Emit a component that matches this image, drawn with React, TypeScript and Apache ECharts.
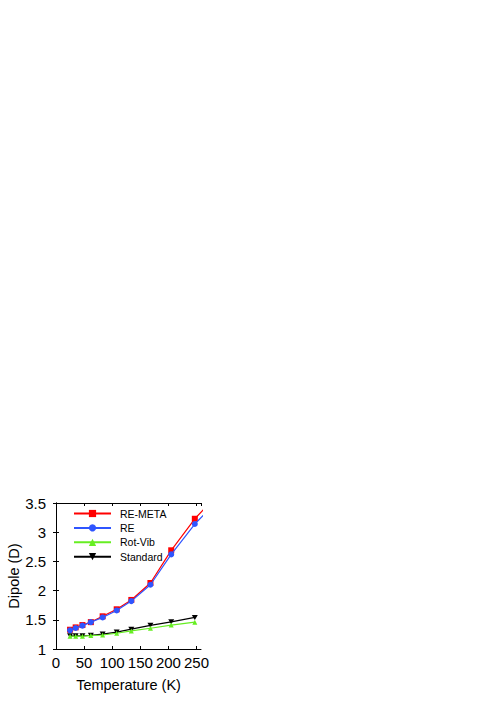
import React, { useEffect, useRef } from "react";
import * as echarts from "echarts";

// Temperatures (K)
const tempsRE = [25, 35, 47, 62, 83, 108, 134, 168, 205, 247, 290];
const tempsRV = [25, 35, 47, 62, 83, 108, 134, 168, 205, 247];

// Dipole (D)
const reMeta = [1.33, 1.37, 1.41, 1.46, 1.56, 1.68, 1.84, 2.13, 2.69, 3.23, 3.67];
const re = [1.32, 1.36, 1.40, 1.46, 1.54, 1.66, 1.82, 2.10, 2.62, 3.14, 3.57];
const rotVib = [1.22, 1.22, 1.22, 1.23, 1.24, 1.27, 1.31, 1.355, 1.41, 1.46];
const standard = [1.225, 1.225, 1.225, 1.235, 1.255, 1.29, 1.34, 1.405, 1.465, 1.54];

const seriesNames = ["RE-META", "RE", "Rot-Vib", "Standard"];

const xTicks = { min: 0, max: 258, interval: 50 };
const yTicks = { min: 1, max: 3.5, interval: 0.5 };

const FONT = "'Liberation Sans', Arial, Helvetica, sans-serif";

const pairs = (xs: number[], ys: number[]) => ys.map((y, i) => [xs[i], y]);

export default function App() {
  const ref = useRef<HTMLDivElement>(null);
  useEffect(() => {
    if (!ref.current) return;
    const chart = echarts.init(ref.current, undefined, { renderer: "svg" });
    const axisLine = { show: true, lineStyle: { color: "#000", width: 1 } };
    const tickIn = { show: true, inside: true, length: 3, lineStyle: { color: "#000", width: 1 } };
    const downTri = "path://M0,0 L10,0 L5,9 Z";
    chart.setOption({
      animation: false,
      backgroundColor: "#fff",
      textStyle: { fontFamily: FONT },
      grid: { left: 56, right: 295, top: 503, bottom: 52, containLabel: false },
      legend: {
        orient: "vertical",
        left: 73,
        top: 508,
        padding: 0,
        itemWidth: 37,
        itemHeight: 9,
        itemGap: 3.4,
        data: seriesNames,
        textStyle: { fontFamily: FONT, fontSize: 10.5, color: "#000", padding: [0, 0, 0, 4] },
      },
      xAxis: [
        {
          type: "value",
          position: "bottom",
          ...xTicks,
          name: "Temperature (K)",
          nameLocation: "middle",
          nameGap: 28,
          nameTextStyle: { fontFamily: FONT, fontSize: 14.5, color: "#000" },
          axisLine,
          axisTick: tickIn,
          axisLabel: { fontFamily: FONT, fontSize: 15, color: "#000", margin: 6, showMaxLabel: false },
          splitLine: { show: false },
        },
        {
          type: "value",
          position: "top",
          ...xTicks,
          axisLine,
          axisTick: tickIn,
          axisLabel: { show: false },
          splitLine: { show: false },
        },
      ],
      yAxis: [
        {
          type: "value",
          position: "left",
          ...yTicks,
          name: "Dipole (D)",
          nameLocation: "middle",
          nameGap: 33,
          nameTextStyle: { fontFamily: FONT, fontSize: 14.5, color: "#000" },
          axisLine,
          axisTick: tickIn,
          axisLabel: { fontFamily: FONT, fontSize: 15, color: "#000", margin: 10 },
          splitLine: { show: false },
        },
        {
          type: "value",
          position: "right",
          ...yTicks,
          axisLine,
          axisTick: tickIn,
          axisLabel: { show: false },
          splitLine: { show: false },
        },
      ],
      series: [
        {
          name: seriesNames[3],
          type: "line",
          data: pairs(tempsRV, standard),
          symbol: downTri,
          symbolSize: [6, 5],
          itemStyle: { color: "#000" },
          lineStyle: { color: "#000", width: 1.2 },
          z: 2,
        },
        {
          name: seriesNames[2],
          type: "line",
          data: pairs(tempsRV, rotVib),
          symbol: "triangle",
          symbolSize: 5,
          itemStyle: { color: "#66ee22" },
          lineStyle: { color: "#66ee22", width: 1.2 },
          z: 2,
        },
        {
          name: seriesNames[0],
          type: "line",
          data: pairs(tempsRE, reMeta),
          symbol: "rect",
          symbolSize: 6,
          itemStyle: { color: "#ff0000" },
          lineStyle: { color: "#ff0000", width: 1.2 },
          z: 3,
        },
        {
          name: seriesNames[1],
          type: "line",
          data: pairs(tempsRE, re),
          symbol: "circle",
          symbolSize: 6,
          itemStyle: { color: "#2f55ff" },
          lineStyle: { color: "#2f55ff", width: 1.2 },
          z: 4,
        },
      ],
    });
    return () => chart.dispose();
  }, []);
  return (
    <div
      ref={ref}
      style={{ position: "fixed", left: 0, top: 0, width: 496, height: 701, background: "#fff" }}
    />
  );
}
